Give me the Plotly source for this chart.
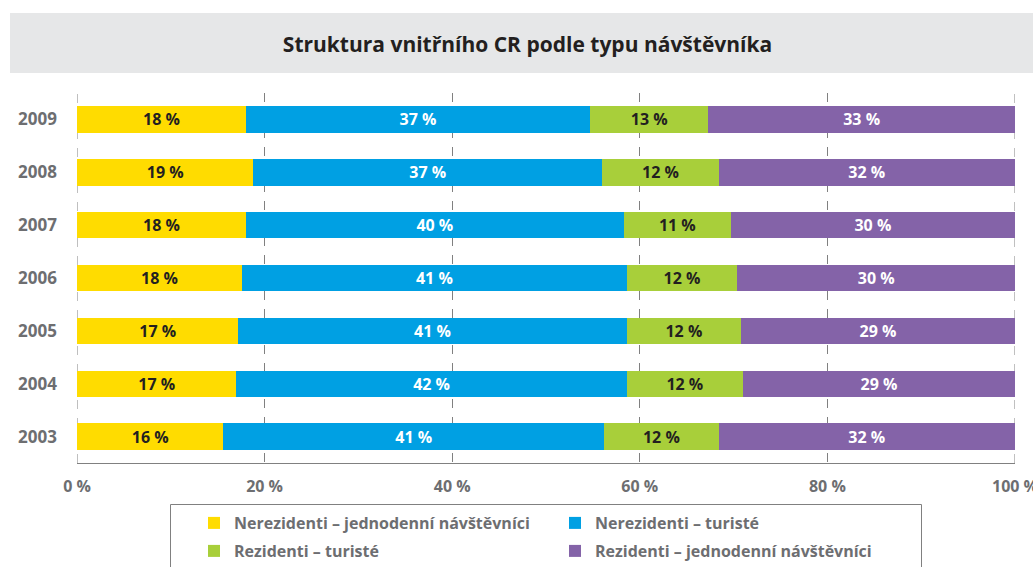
import plotly.graph_objects as go

years = ["2003", "2004", "2005", "2006", "2007", "2008", "2009"]
series_names = [
    "Nerezidenti – jednodenní návštěvníci",
    "Nerezidenti – turisté",
    "Rezidenti – turisté",
    "Rezidenti – jednodenní návštěvníci",
]
nerez_jedn = [15.6, 17.0, 17.2, 17.6, 18.0, 18.8, 18.0]
nerez_tur = [40.6, 41.6, 41.4, 41.0, 40.3, 37.2, 36.7]
rez_tur = [12.2, 12.4, 12.2, 11.8, 11.4, 12.4, 12.6]
rez_jedn = [31.6, 29.0, 29.2, 29.6, 30.3, 31.6, 32.7]
x_ticks = [0, 20, 40, 60, 80, 100]
x_tick_labels = ["0 %", "20 %", "40 %", "60 %", "80 %", "100 %"]
title_text = "Struktura vnitřního CR podle typu návštěvníka"

colors = ["#FFDC00", "#00A0E3", "#A8CF3A", "#8463A8"]
text_colors = ["#231F20", "#FFFFFF", "#231F20", "#FFFFFF"]
legend_ids = ["legend", "legend", "legend2", "legend2"]
gray = "#6D6E71"
font_main = "Open Sans"

fig = go.Figure()
for name, vals, c, tc, lg in zip(series_names, [nerez_jedn, nerez_tur, rez_tur, rez_jedn],
                                 colors, text_colors, legend_ids):
    fig.add_trace(go.Bar(
        y=years, x=vals, name=name, orientation="h", legend=lg,
        marker=dict(color=c, line=dict(width=0)),
        texttemplate="%{x:.0f} %", textposition="inside", insidetextanchor="middle",
        textangle=0, constraintext="none",
        textfont=dict(color=tc, size=16, family=font_main, weight="bold"),
        hoverinfo="skip",
    ))

W, H = 1033, 567
L, R, T, B = 77, 18, 93, 104
pw, ph = W - L - R, H - T - B

def px_x(p):
    return (p - L) / pw

def px_y(p):
    return (H - B - p) / ph

# title band
fig.add_shape(type="rect", xref="paper", yref="paper",
              x0=px_x(10), x1=px_x(1040), y0=px_y(73), y1=px_y(13),
              fillcolor="#E6E7E8", line=dict(width=0), layer="below")
# legend frame
fig.add_shape(type="rect", xref="paper", yref="paper",
              x0=px_x(170.5), x1=px_x(921.5), y0=px_y(580), y1=px_y(504.5),
              fillcolor="rgba(0,0,0,0)", line=dict(color="#808080", width=1))
# edge gridlines
for xv in [x_ticks[0], x_ticks[-1]]:
    fig.add_shape(type="line", xref="x", yref="paper", x0=xv, x1=xv, y0=0, y1=1,
                  line=dict(color="#808080", width=1, dash="dash"), layer="below")

legend_common = dict(orientation="h", xanchor="left", yanchor="middle",
                     borderwidth=0, bgcolor="rgba(0,0,0,0)",
                     entrywidth=316, itemwidth=30, traceorder="normal",
                     font=dict(family=font_main, size=16, color=gray, weight="bold"))

fig.update_layout(
    width=W, height=H,
    margin=dict(l=L, r=R, t=T, b=B, autoexpand=False),
    barmode="stack", bargap=0.5,
    plot_bgcolor="white", paper_bgcolor="white",
    title=dict(text=title_text, x=527.5 / W, y=1 - 45 / H, xref="container", yref="container",
               xanchor="center", yanchor="middle",
               font=dict(family=font_main, size=21, color="#231F20", weight="bold")),
    xaxis=dict(range=[0, 100], tickmode="array", tickvals=x_ticks, ticktext=x_tick_labels,
               showgrid=True, gridcolor="#808080", griddash="dash", gridwidth=1,
               showline=True, linecolor="#808080", linewidth=1, zeroline=False,
               tickfont=dict(family=font_main, size=16, color=gray, weight="bold"),
               ticklabelstandoff=9, ticklabeloverflow="allow",
               automargin=False, fixedrange=True),
    yaxis=dict(showgrid=False, showline=False, zeroline=False,
               tickfont=dict(family=font_main, size=17, color=gray, weight="bold"),
               ticklabelstandoff=19, automargin=False, fixedrange=True),
    legend=dict(x=px_x(194), y=px_y(523), **legend_common),
    legend2=dict(x=px_x(194), y=px_y(551), **legend_common),
    showlegend=True,
)

fig.write_html("out.html")
